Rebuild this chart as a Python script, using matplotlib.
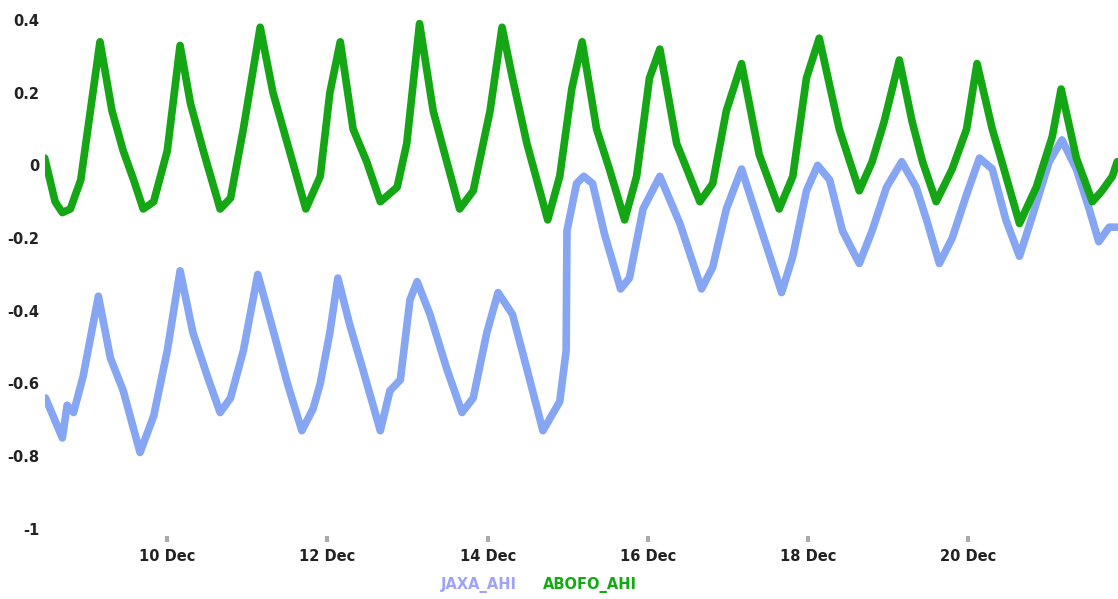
import matplotlib
matplotlib.use("Agg")
import matplotlib.pyplot as plt

# time in days of December
jaxa_t = [8.48, 8.69, 8.75, 8.83, 8.95, 9.14, 9.29, 9.45, 9.66, 9.83,
          10.00, 10.16, 10.32, 10.50, 10.66, 10.79, 10.95, 11.13, 11.28, 11.50,
          11.68, 11.82, 11.91, 12.03, 12.13, 12.28, 12.44, 12.66, 12.78, 12.91,
          13.03, 13.12, 13.28, 13.49, 13.68, 13.82, 13.99, 14.13, 14.31, 14.49,
          14.69, 14.90, 14.98, 14.99, 15.11, 15.20, 15.31, 15.46, 15.66, 15.77,
          15.94, 16.15, 16.40, 16.67, 16.81, 16.98, 17.17, 17.39, 17.67, 17.81,
          17.98, 18.12, 18.27, 18.43, 18.64, 18.80, 18.98, 19.17, 19.35, 19.48,
          19.64, 19.80, 19.98, 20.14, 20.30, 20.47, 20.64, 20.80, 21.01, 21.17,
          21.35, 21.51, 21.63, 21.76, 21.86]
jaxa_v = [-0.64, -0.75, -0.66, -0.68, -0.58, -0.36, -0.53, -0.62, -0.79, -0.69,
          -0.51, -0.29, -0.46, -0.58, -0.68, -0.64, -0.51, -0.30, -0.42, -0.60,
          -0.73, -0.67, -0.60, -0.46, -0.31, -0.44, -0.56, -0.73, -0.62, -0.59,
          -0.37, -0.32, -0.41, -0.56, -0.68, -0.64, -0.46, -0.35, -0.41, -0.56,
          -0.73, -0.65, -0.51, -0.18, -0.05, -0.03, -0.05, -0.19, -0.34, -0.31,
          -0.12, -0.03, -0.16, -0.34, -0.28, -0.12, -0.01, -0.16, -0.35, -0.25,
          -0.07, 0.00, -0.04, -0.18, -0.27, -0.18, -0.06, 0.01, -0.06, -0.15,
          -0.27, -0.20, -0.08, 0.02, -0.01, -0.15, -0.25, -0.14, 0.01, 0.07,
          -0.01, -0.12, -0.21, -0.17, -0.17]

abofo_t = [8.47, 8.60, 8.69, 8.79, 8.92, 9.16, 9.31, 9.45, 9.58, 9.70,
           9.83, 10.00, 10.16, 10.29, 10.45, 10.66, 10.79, 10.95, 11.16, 11.32,
           11.50, 11.73, 11.91, 12.03, 12.16, 12.32, 12.49, 12.66, 12.87, 12.99,
           13.15, 13.32, 13.49, 13.65, 13.82, 14.03, 14.18, 14.31, 14.49, 14.75,
           14.90, 15.05, 15.18, 15.36, 15.52, 15.71, 15.86, 16.02, 16.15, 16.36,
           16.65, 16.81, 16.98, 17.17, 17.39, 17.64, 17.81, 17.98, 18.14, 18.39,
           18.64, 18.80, 18.95, 19.14, 19.30, 19.43, 19.60, 19.80, 19.98, 20.11,
           20.30, 20.42, 20.64, 20.85, 21.05, 21.16, 21.35, 21.55, 21.67, 21.80,
           21.86]
abofo_v = [0.02, -0.10, -0.13, -0.12, -0.04, 0.34, 0.15, 0.04, -0.04, -0.12,
           -0.10, 0.04, 0.33, 0.17, 0.04, -0.12, -0.09, 0.10, 0.38, 0.20,
           0.06, -0.12, -0.03, 0.20, 0.34, 0.10, 0.01, -0.10, -0.06, 0.06,
           0.39, 0.15, 0.01, -0.12, -0.07, 0.15, 0.38, 0.24, 0.06, -0.15,
           -0.03, 0.21, 0.34, 0.10, -0.01, -0.15, -0.03, 0.24, 0.32, 0.06,
           -0.10, -0.05, 0.15, 0.28, 0.03, -0.12, -0.03, 0.24, 0.35, 0.10,
           -0.07, 0.01, 0.12, 0.29, 0.12, 0.01, -0.10, -0.01, 0.10, 0.28,
           0.10, 0.01, -0.16, -0.06, 0.08, 0.21, 0.02, -0.10, -0.07, -0.03,
           0.01]

x_ticks = [10, 12, 14, 16, 18, 20]
x_labels = ["10 Dec", "12 Dec", "14 Dec", "16 Dec", "18 Dec", "20 Dec"]
y_ticks = [0.4, 0.2, 0, -0.2, -0.4, -0.6, -0.8, -1]
y_labels = ["0.4", "0.2", "0", "-0.2", "-0.4", "-0.6", "-0.8", "-1"]

C_JAXA = "#86a6f4"
C_ABOFO = "#14a614"

fig = plt.figure(figsize=(11.18, 5.99), dpi=100)
ax = fig.add_axes([0.040, 0.105, 0.960, 0.895])

ax.plot(jaxa_t, jaxa_v, color=C_JAXA, linewidth=5.5, solid_joinstyle="round",
        solid_capstyle="round")
ax.plot(abofo_t, abofo_v, color=C_ABOFO, linewidth=5.5, solid_joinstyle="round",
        solid_capstyle="round")

ax.set_xlim(8.47, 21.87)
ax.set_ylim(-1.02, 0.455)

ax.set_xticks(x_ticks)
ax.set_xticklabels(x_labels, fontsize=10.5, fontweight="bold", color="#222222")
ax.set_yticks(y_ticks)
ax.set_yticklabels(y_labels, fontsize=10.5, fontweight="bold", color="#222222")
ax.tick_params(axis="x", length=4, width=3, color="#aaaaaa", pad=5)
ax.tick_params(axis="y", length=0, pad=4)
for s in ax.spines.values():
    s.set_visible(False)

fig.text(0.428, 0.024, "JAXA_AHI", color="#9fa3f7", fontsize=10.5,
         fontweight="bold", ha="center", va="center")
fig.text(0.528, 0.024, "ABOFO_AHI", color="#11aa11", fontsize=10.5,
         fontweight="bold", ha="center", va="center")

fig.savefig("out.png", dpi=100)
